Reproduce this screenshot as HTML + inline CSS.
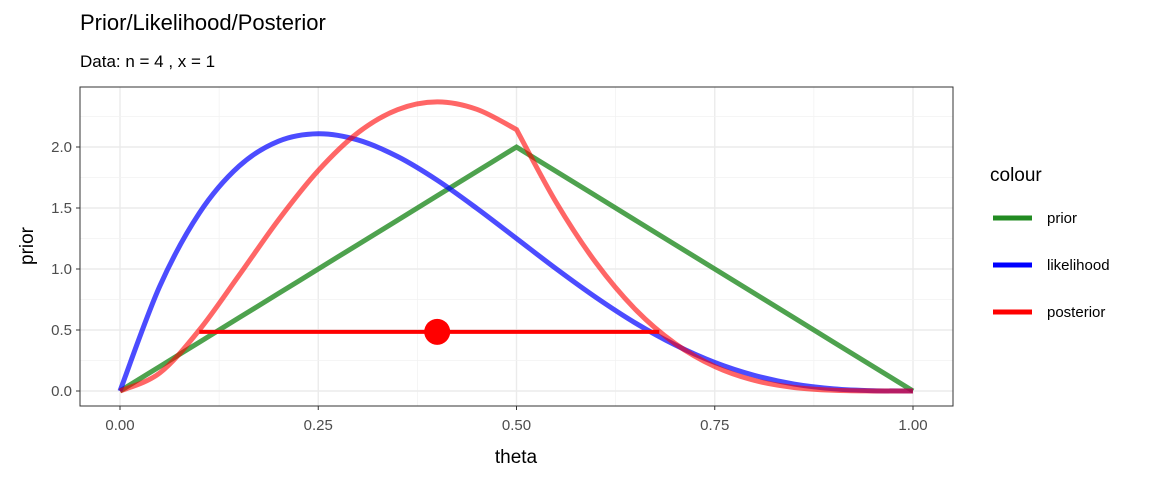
<!DOCTYPE html>
<html><head><meta charset="utf-8"><style>
body{margin:0;background:#fff;font-family:"Liberation Sans",Arial,sans-serif}
</style></head><body>
<svg id="chart" width="1152" height="480" xmlns="http://www.w3.org/2000/svg" font-family="Liberation Sans, Arial, sans-serif">
<text x="80" y="30" font-size="22" fill="#000">Prior/Likelihood/Posterior</text>
<text x="80" y="67" font-size="17" fill="#000">Data: n = 4 , x = 1</text>
<g id="grid"></g><g id="series"></g><g id="axes"></g>
<rect x="80" y="87" width="873" height="319" fill="none" stroke="#333" stroke-width="1"/>
<text x="516" y="463" font-size="19" text-anchor="middle">theta</text>
<text transform="translate(33,246) rotate(-90)" font-size="19" text-anchor="middle">prior</text>
<text x="990" y="181" font-size="19">colour</text>
<g><line x1="993" y1="218" x2="1032" y2="218" stroke="#228B22" stroke-width="5"/><text x="1047" y="223" font-size="15">prior</text></g>
<g><line x1="993" y1="265" x2="1032" y2="265" stroke="#0000ff" stroke-width="5"/><text x="1047" y="270" font-size="15">likelihood</text></g>
<g><line x1="993" y1="312" x2="1032" y2="312" stroke="#ff0000" stroke-width="5"/><text x="1047" y="317" font-size="15">posterior</text></g>
</svg>
<script>
const theta=[0,.05,.1,.15,.2,.25,.3,.35,.4,.45,.5,.55,.6,.65,.7,.75,.8,.85,.9,.95,1];
const prior=[0,.2,.4,.6,.8,1,1.2,1.4,1.6,1.8,2,1.8,1.6,1.4,1.2,1,.8,.6,.4,.2,0];
const likelihood=[0,.857,1.458,1.842,2.048,2.109,2.058,1.922,1.728,1.497,1.25,1.002,.768,.557,.378,.234,.128,.057,.018,.0024,0];
const posterior=[0,.147,.5,.947,1.404,1.807,2.117,2.306,2.37,2.309,2.143,1.546,1.053,.668,.389,.201,.087,.029,.006,.0004,0];
const interval=[0.1,0.68];
const intervalY=0.485;
const pointEstimate=0.4;
const xTicks=[0,0.25,0.5,0.75,1];
const xTickLabels=["0.00","0.25","0.50","0.75","1.00"];
const yTicks=[0,0.5,1,1.5,2];
const yTickLabels=["0.0","0.5","1.0","1.5","2.0"];
const NS="http://www.w3.org/2000/svg";
const X=v=>120+v*793, Y=v=>391-v*122;
function mk(tag,attrs,parent){const e=document.createElementNS(NS,tag);for(const k in attrs)e.setAttribute(k,attrs[k]);parent.appendChild(e);return e;}
const grid=document.getElementById('grid'),axes=document.getElementById('axes'),series=document.getElementById('series');
for(let i=0;i<xTicks.length;i++){
 let l=mk('line',{x1:X(xTicks[i]),x2:X(xTicks[i]),y1:87,y2:406,stroke:'#ebebeb','stroke-width':1.4},grid);
 
 if(i<xTicks.length-1){let m=mk('line',{x1:X((xTicks[i]+xTicks[i+1])/2),x2:X((xTicks[i]+xTicks[i+1])/2),y1:87,y2:406,stroke:'#f2f2f2','stroke-width':0.8},grid);
 }
 let t=mk('line',{x1:X(xTicks[i]),x2:X(xTicks[i]),y1:406,y2:410,stroke:'#333'},axes);
 
 let tx=mk('text',{x:X(xTicks[i]),y:430,'font-size':15,fill:'#4d4d4d','text-anchor':'middle'},axes);tx.textContent=xTickLabels[i];
 
}
for(let i=0;i<yTicks.length;i++){
 let l=mk('line',{x1:80,x2:953,y1:Y(yTicks[i]),y2:Y(yTicks[i]),stroke:'#ebebeb','stroke-width':1.4},grid);
 
 let m=mk('line',{x1:80,x2:953,y1:Y(yTicks[i]+0.25),y2:Y(yTicks[i]+0.25),stroke:'#f2f2f2','stroke-width':0.8},grid);
 
 let t=mk('line',{x1:76,x2:80,y1:Y(yTicks[i]),y2:Y(yTicks[i]),stroke:'#333'},axes);
 
 let tx=mk('text',{x:72,y:Y(yTicks[i])+5,'font-size':15,fill:'#4d4d4d','text-anchor':'end'},axes);tx.textContent=yTickLabels[i];
 
}
function smooth(vals,kinks){
 const p=theta.map((t,i)=>[X(t),Y(vals[i])]);let d='M'+p[0][0]+','+p[0][1];
 for(let i=0;i<p.length-1;i++){
  const p0=(i>0&&!kinks.includes(i))?p[i-1]:p[i],p1=p[i],p2=p[i+1],p3=(i+2<p.length&&!kinks.includes(i+1))?p[i+2]:p2;
  const c1=[p1[0]+(p2[0]-p0[0])/6,p1[1]+(p2[1]-p0[1])/6],c2=[p2[0]-(p3[0]-p1[0])/6,p2[1]-(p3[1]-p1[1])/6];
  d+=` C${c1[0]},${c1[1]} ${c2[0]},${c2[1]} ${p2[0]},${p2[1]}`;
 }return d;}
let pr=mk('path',{d:smooth(prior,[10]),fill:'none',stroke:'#228B22','stroke-opacity':0.8,'stroke-width':5},series);

let lk=mk('path',{d:smooth(likelihood,[]),fill:'none',stroke:'#0000ff','stroke-opacity':0.7,'stroke-width':5},series);

let po=mk('path',{d:smooth(posterior,[10]),fill:'none',stroke:'#ff0000','stroke-opacity':0.6,'stroke-width':5},series);

let iv=mk('line',{x1:X(interval[0]),x2:X(interval[1]),y1:Y(intervalY),y2:Y(intervalY),stroke:'#ff0000','stroke-width':4},series);

let pt=mk('circle',{cx:X(pointEstimate),cy:Y(intervalY),r:13,fill:'#ff0000'},series);

</script>
</body></html>
